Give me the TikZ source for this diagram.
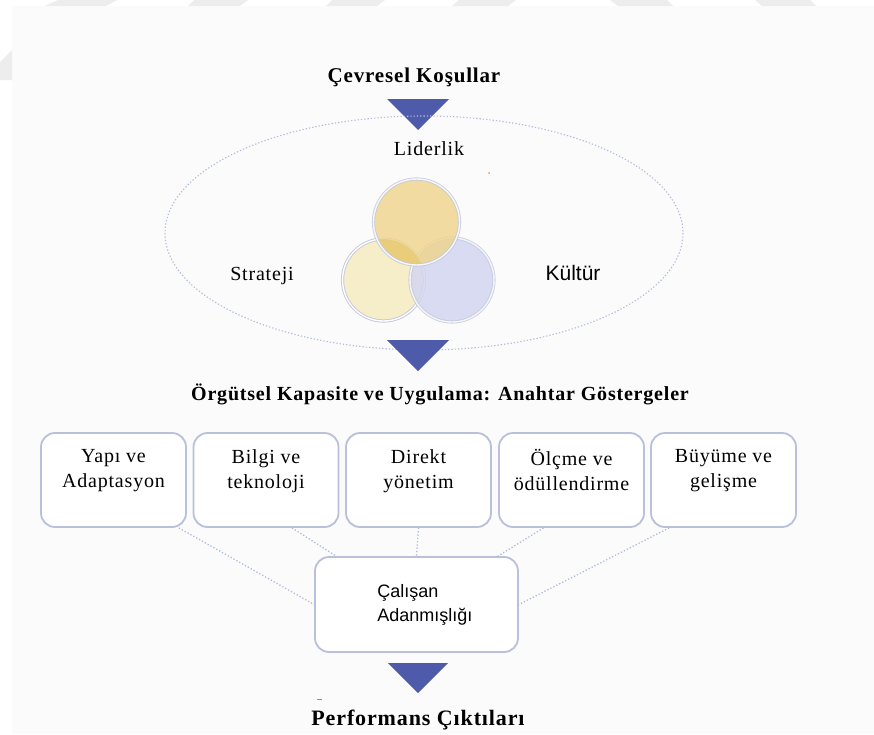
\documentclass[tikz,border=0pt]{standalone}
\usepackage{fontspec}
\setmainfont{Liberation Serif}
\newfontfamily\bmpserif[LetterSpace=4]{Liberation Serif}
\newfontfamily\bmpsans{Liberation Sans}
\usetikzlibrary{positioning}
\definecolor{tribl}{HTML}{4E5BAA}
\definecolor{bordc}{HTML}{B9C0DA}
\definecolor{dotc}{HTML}{B3BCDC}
\definecolor{ringc}{HTML}{C3C8DA}
\definecolor{goldc}{HTML}{EFD48A}
\definecolor{deepgold}{HTML}{E8C970}
\definecolor{creamc}{HTML}{F6EDC9}
\definecolor{lavc}{HTML}{D3D6F1}
\definecolor{panelc}{HTML}{FBFBFB}
\definecolor{stripec}{HTML}{EDEDED}

\begin{document}
\begin{tikzpicture}[x=1pt, y=-1pt,
  every node/.style={inner sep=0pt},
  title/.style={font=\fontsize{21}{24}\selectfont\bmpserif\bfseries},
  plain/.style={font=\fontsize{20}{25}\selectfont\bmpserif},
  sanslabel/.style={font=\fontsize{21}{25}\selectfont\bmpsans},
  kbox/.style={draw=bordc, line width=1.8pt, rounded corners=14pt, fill=white,
    minimum width=145pt, minimum height=94pt},
  ktext/.style={plain, align=center},
  link/.style={draw=dotc, line width=1.3pt, dotted},
  tri/.style={fill=tribl},
  ring/.style={draw=ringc, line width=0.9pt, double=white, double distance=1.4pt}]
  % Page and faint background
  \useasboundingbox (0,0) rectangle (874,734);
  \fill[white] (0,0) rectangle (874,734);
  \fill[panelc] (12,6) rectangle (874,734);
  \fill[stripec] (58,0) -- (117,0) -- (106,6) -- (45,6) -- cycle;
  \fill[stripec] (194,0) -- (248,0) -- (240,6) -- (188,6) -- cycle;
  \fill[stripec] (332,0) -- (385,0) -- (377,6) -- (326,6) -- cycle;
  \fill[stripec] (459,0) -- (516,0) -- (508,6) -- (452,6) -- cycle;
  \fill[stripec] (610,0) -- (667,0) -- (673,6) -- (618,6) -- cycle;
  \fill[stripec] (755,0) -- (810,0) -- (816,6) -- (762,6) -- cycle;
  \fill[stripec] (0,62) -- (12,50) -- (12,80) -- (0,80) -- cycle;

  % Top heading and first arrow
  \node[title, anchor=base] (cevre) at (414,82) {Çevresel Koşullar};
  \coordinate (tri1) at (387,99);
  \fill[tri] (tri1) -- ++(62,0) -- ++(-31,31) -- cycle;

  % Outer dotted ellipse
  \draw[link, line width=1.1pt] (424,233) ellipse [x radius=259, y radius=117];

  % Venn circles
  \coordinate (cLeft) at (383.5,280);
  \coordinate (cRight) at (452,280);
  \coordinate (cTop) at (416.5,222);
  \fill[creamc] (cLeft) circle [radius=41];
  \draw[ring] (cLeft) circle [radius=41];
  \fill[lavc, fill opacity=0.85] (cRight) circle [radius=42];
  \draw[ring, opacity=0.8] (cRight) circle [radius=42];
  \fill[goldc, fill opacity=0.8] (cTop) circle [radius=43];
  \begin{scope}
    \clip (cTop) circle [radius=43];
    \fill[deepgold, fill opacity=0.7] (cLeft) circle [radius=41];
  \end{scope}
  \draw[ring, opacity=0.85] (cTop) circle [radius=43];
  \fill[orange!80!yellow] (489,173) circle [radius=1];

  % Labels around the circles
  \node[plain, anchor=base] (lider) at (429,155) {Liderlik};
  \node[plain, anchor=base] (strat) at (262,280) {Strateji};
  \node[sanslabel, anchor=base] (kultur) at (573,280) {Kültür};

  % Second arrow and heading
  \coordinate (tri2) at (387,340);
  \fill[tri] (tri2) -- ++(62,0) -- ++(-31,31) -- cycle;
  \node[title, font=\fontsize{20}{24}\selectfont\bmpserif\bfseries, anchor=base] (orgut) at (440,400)
    {Örgütsel Kapasite ve Uygulama: Anahtar Göstergeler};

  % Indicator boxes
  \node[kbox] (yapi)  at (113.5,480) {};
  \node[kbox] (bilgi) at (266,480)   {};
  \node[kbox] (direkt) at (418.5,480) {};
  \node[kbox] (olcme) at (571.5,480) {};
  \node[kbox] (buyume) at (723.5,480) {};
  \node[ktext, below=17pt of yapi.north]   (yapiT)   {Yapı ve\\Adaptasyon};
  \node[ktext, below=17pt of bilgi.north]  (bilgiT)  {Bilgi ve\\teknoloji};
  \node[ktext, below=17pt of direkt.north] (direktT) {Direkt\\yönetim};
  \node[ktext, below=17pt of olcme.north]  (olcmeT)  {Ölçme ve\\ödüllendirme};
  \node[ktext, below=17pt of buyume.north] (buyumeT) {Büyüme ve\\gelişme};

  % Employee commitment box
  \node[kbox, minimum width=203pt, minimum height=95pt] (calisan) at (416.5,604.5) {};
  \node[font=\fontsize{18}{24}\selectfont\bmpsans, align=left,
    below right=28pt and 63pt of calisan.north west] (calisanT) {Çalışan\\Adanmışlığı};

  % Dotted links into the box
  \draw[link] ([xshift=-8pt]yapi.south east) -- (calisan.west);
  \draw[link] ([xshift=26pt]bilgi.south) -- ([xshift=22pt]calisan.north west);
  \draw[link] (direkt.south) -- (calisan.north);
  \draw[link] ([xshift=-28pt]olcme.south) -- ([xshift=-21pt]calisan.north east);
  \draw[link] ([xshift=19pt]buyume.south west) -- (calisan.east);

  % Last arrow and outcome
  \coordinate (tri3) at (388,663);
  \fill[tri] (tri3) -- ++(60,0) -- ++(-30,30) -- cycle;
  \draw[tribl!70, line width=1pt] (317,699) -- (322,699);
  \node[title, font=\fontsize{22}{24}\selectfont\bmpserif\bfseries, anchor=base] (perf) at (418,725)
    {Performans Çıktıları};
\end{tikzpicture}
\end{document}
